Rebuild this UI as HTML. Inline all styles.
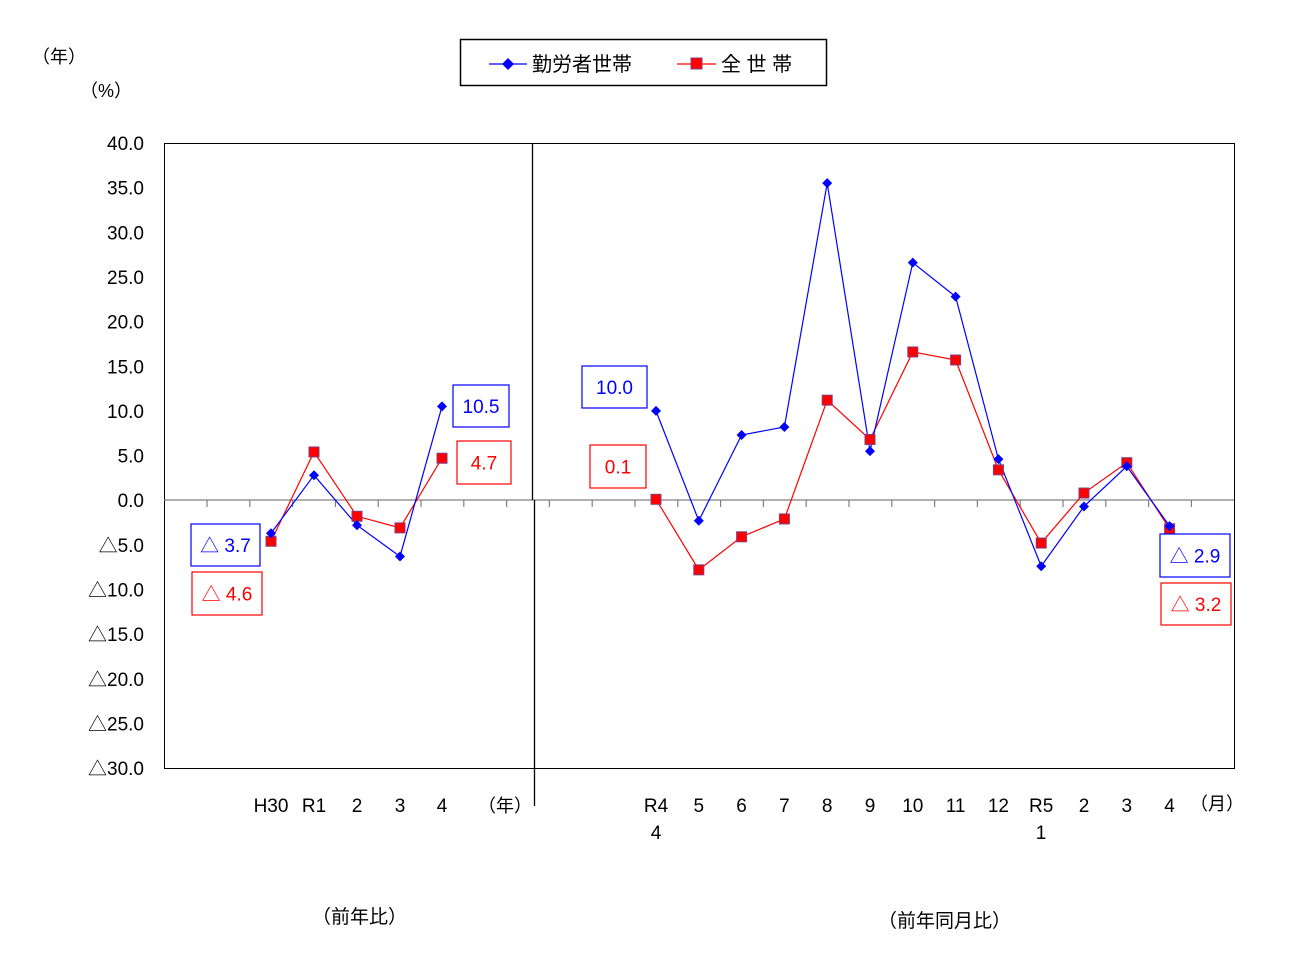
<!DOCTYPE html>
<html><head><meta charset="utf-8"><style>
body{margin:0;background:#fff;}
svg{display:block;font-family:"Liberation Sans","Noto Sans CJK JP",sans-serif;}
</style></head><body>
<svg id="s" width="1307" height="966" xmlns="http://www.w3.org/2000/svg">
<rect x="0" y="0" width="1307" height="966" fill="#fff"/>
<text x="32" y="63" font-size="18">（年）</text>
<text x="80" y="97" font-size="18">（%）</text>
<rect x="460.5" y="39.5" width="366" height="46" fill="#fff" stroke="#000" stroke-width="1.5"/>
<line x1="489" y1="64" x2="527" y2="64" stroke="#0000ff" stroke-width="1.2"/>
<path d="M508 58 L514 64 L508 70 L502 64Z" fill="#0000ff"/>
<text x="532" y="71" font-size="20">勤労者世帯</text>
<line x1="677" y1="64" x2="716" y2="64" stroke="#ff0000" stroke-width="1.2"/>
<rect x="691" y="58" width="11" height="11" fill="#ff0000" stroke="#7f3f7f"/>
<text x="721" y="71" font-size="20">全 世 帯</text>
<rect x="164.5" y="143.5" width="1070" height="625" fill="none" stroke="#000" stroke-width="1"/>
<line x1="164" y1="500" x2="1234" y2="500" stroke="#808080" stroke-width="1.2"/>
<line x1="532.5" y1="143" x2="532.5" y2="500" stroke="#000" stroke-width="1.3"/>
<line x1="534.5" y1="500" x2="534.5" y2="806" stroke="#000" stroke-width="1.3"/>
<g id="g"></g>
<text x="312" y="923" font-size="19">（前年比）</text>
<text x="878" y="927" font-size="19">（前年同月比）</text>
</svg>
<script>
var g=document.getElementById('g'),h='';
function Y(v){return 500.2-v*8.93;}
for(var v=40,i=0;v>=-30;v-=5,i++){var y=Y(v);var t=v<0?'△'+(-v).toFixed(1):v.toFixed(1);
h+='<text x="144" y="'+(y+7)+'" font-size="19" text-anchor="end">'+t+'</text>';}
for(var x=207;x<=1234;x+=42.8){if(Math.abs(x-532)<8)continue;h+='<line x1="'+x+'" y1="500" x2="'+x+'" y2="507" stroke="#808080" stroke-width="1.2"/>';}
var L=[271,314,357,400,442],R=[];for(var k=0;k<13;k++)R.push(656+k*42.8);
var lb=['H30','R1','2','3','4'];lb.forEach(function(s,i){h+='<text x="'+L[i]+'" y="812" font-size="19" text-anchor="middle">'+s+'</text>';});
h+='<text x="478" y="812" font-size="18">（年）</text>';
var rb=['R4','5','6','7','8','9','10','11','12','R5','2','3','4'];rb.forEach(function(s,i){h+='<text x="'+R[i]+'" y="812" font-size="19" text-anchor="middle">'+s+'</text>';});
h+='<text x="656" y="839" font-size="19" text-anchor="middle">4</text><text x="1041" y="839" font-size="19" text-anchor="middle">1</text>';
h+='<text x="1190" y="810" font-size="18">（月）</text>';
function line(xs,vs,c){var p=xs.map(function(x,i){return x+','+Y(vs[i]);}).join(' ');
h+='<polyline points="'+p+'" fill="none" stroke="'+c+'" stroke-width="1.2"/>';}
function dia(xs,vs){xs.forEach(function(x,i){var y=Y(vs[i]);h+='<path d="M'+x+' '+(y-5)+' L'+(x+5)+' '+y+' L'+x+' '+(y+5)+' L'+(x-5)+' '+y+'Z" fill="#0000ff"/>';});}
function sq(xs,vs){xs.forEach(function(x,i){var y=Y(vs[i]);h+='<rect x="'+(x-5)+'" y="'+(y-5)+'" width="10" height="10" fill="#ff0000" stroke="#7f3f7f"/>';});}
var bL=[-3.7,2.8,-2.8,-6.3,10.5],rL=[-4.6,5.4,-1.8,-3.1,4.7];
var bR=[10.0,-2.3,7.3,8.2,35.5,5.5,26.6,22.8,4.6,-7.4,-0.7,3.8,-2.9];
var rR=[0.1,-7.8,-4.1,-2.1,11.2,6.8,16.6,15.7,3.4,-4.8,0.8,4.2,-3.2];
line(L,rL,'#ff0000');line(R,rR,'#ff0000');line(L,bL,'#0000ff');line(R,bR,'#0000ff');
sq(L,rL);sq(R,rR);dia(L,bL);dia(R,bR);
function box(x,y,w,hh,c,t){h+='<rect x="'+x+'" y="'+y+'" width="'+w+'" height="'+hh+'" fill="#fff" stroke="'+c+'" stroke-width="1.2"/><text x="'+(x+w/2)+'" y="'+(y+hh/2+7)+'" font-size="19" fill="'+c+'" text-anchor="middle">'+t+'</text>';}
box(453,385,56,42,'#0000ff','10.5');box(457,441,54,43,'#ff0000','4.7');
box(582,366,65,42,'#0000ff','10.0');box(590,445,56,43,'#ff0000','0.1');
box(191,524,69,42,'#0000ff','△ 3.7');box(192,572,70,43,'#ff0000','△ 4.6');
box(1160,534,70,43,'#0000ff','△ 2.9');box(1161,583,70,42,'#ff0000','△ 3.2');
g.innerHTML=h;
</script>
</body></html>
